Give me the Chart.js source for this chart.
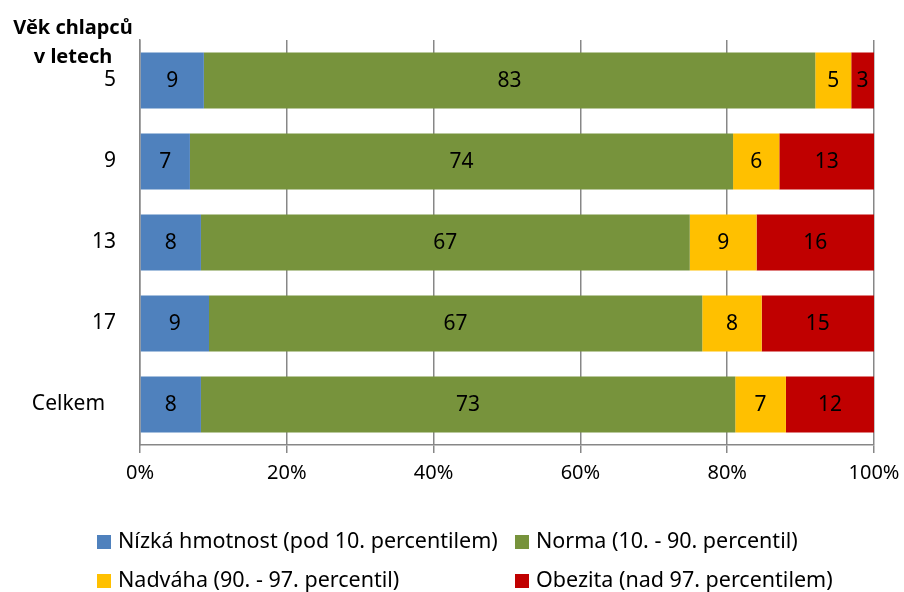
<!DOCTYPE html>
<html>
<head>
<meta charset="utf-8">
<script src="https://cdn.jsdelivr.net/npm/chart.js@4.4.1/dist/chart.umd.min.js"></script>
<style>
  body { margin: 0; background: #fff; }
  #wrap { width: 904px; height: 592px; }
</style>
</head>
<body>
<div id="wrap"><canvas id="boys" width="904" height="592"></canvas></div>
<script>
const categories = ['5', '9', '13', '17', 'Celkem']
const nizka = [8.7, 6.8, 8.3, 9.4, 8.3]
const norma = [83.3, 74.0, 66.6, 67.2, 72.8]
const nadvaha = [4.9, 6.3, 9.1, 8.1, 6.9]
const obezita = [3.1, 12.9, 16.0, 15.3, 12.0]
const xTicks = [0, 20, 40, 60, 80, 100]
const seriesNames = [
    'Nízká hmotnost (pod 10. percentilem)',
    'Norma (10. - 90. percentil)',
    'Nadváha (90. - 97. percentil)',
    'Obezita (nad 97. percentilem)'
]
const axisTitle = ['Věk chlapců', 'v letech']

const FONT = "'Noto Sans', 'DejaVu Sans', sans-serif"
const gridGray = '#878787'

// labels inside bars, axis title and the 2x2 legend
const extras = {
    id: 'extras',
    afterDraw(chart) {
        const ctx = chart.ctx
        ctx.save()
        ctx.fillStyle = '#000'
        ctx.font = '21px ' + FONT
        ctx.textAlign = 'center'
        ctx.textBaseline = 'middle'
        chart.data.datasets.forEach((ds, i) => {
            chart.getDatasetMeta(i).data.forEach((bar, j) => {
                const cx = (bar.x + bar.base) / 2
                ctx.fillText(Math.round(ds.data[j]), cx, bar.y + 1)
            })
        })

        ctx.font = 'bold 20px ' + FONT
        ctx.textBaseline = 'alphabetic'
        ctx.fillText(axisTitle[0], 73, 34)
        ctx.fillText(axisTitle[1], 73, 63)

        const cols = [97, 515]
        const rows = [542, 581]
        ctx.font = '21.5px ' + FONT
        ctx.textAlign = 'left'
        ctx.textBaseline = 'middle'
        chart.data.datasets.forEach((ds, i) => {
            const x = cols[i % 2]
            const y = rows[Math.floor(i / 2)]
            ctx.fillStyle = ds.backgroundColor
            ctx.fillRect(x, y - 7, 14, 14)
            ctx.fillStyle = '#000'
            ctx.fillText(ds.label, x + 21, y)
        })
        ctx.restore()
    }
}

const colors = ['#4F81BD', '#77933C', '#FFC000', '#C00000']
const values = [nizka, norma, nadvaha, obezita]

new Chart(document.getElementById('boys'), {
    type: 'bar',
    data: {
        labels: categories,
        datasets: values.map((v, i) => ({
            label: seriesNames[i],
            data: v,
            backgroundColor: colors[i],
            borderWidth: 0,
            categoryPercentage: 1,
            barPercentage: 0.69
        }))
    },
    options: {
        indexAxis: 'y',
        responsive: false,
        animation: false,
        layout: { padding: { top: 40, right: 30, bottom: 80, left: 0 } },
        plugins: {
            legend: { display: false },
            tooltip: { enabled: false }
        },
        scales: {
            x: {
                stacked: true,
                min: 0,
                max: 100,
                afterBuildTicks: (scale) => { scale.ticks = xTicks.map(v => ({ value: v })) },
                afterFit: (scale) => {
                    scale.height = 67
                    scale.paddingLeft = 0
                    scale.paddingRight = 0
                },
                grid: { color: gridGray, lineWidth: 1.5, tickLength: 8 },
                border: { color: gridGray, width: 1.5 },
                ticks: {
                    color: '#000',
                    font: { family: FONT, size: 20 },
                    padding: 8,
                    callback: (v) => v + '%'
                }
            },
            y: {
                stacked: true,
                afterFit: (scale) => { scale.width = 140 },
                grid: { display: false, drawTicks: false },
                border: { color: gridGray, width: 1.5 },
                ticks: {
                    color: '#000',
                    font: { family: FONT, size: 21 },
                    padding: 24,
                    callback: (v, i) => categories[i] === 'Celkem' ? categories[i] + '  ' : categories[i]
                }
            }
        }
    },
    plugins: [extras]
})
</script>
</body>
</html>
